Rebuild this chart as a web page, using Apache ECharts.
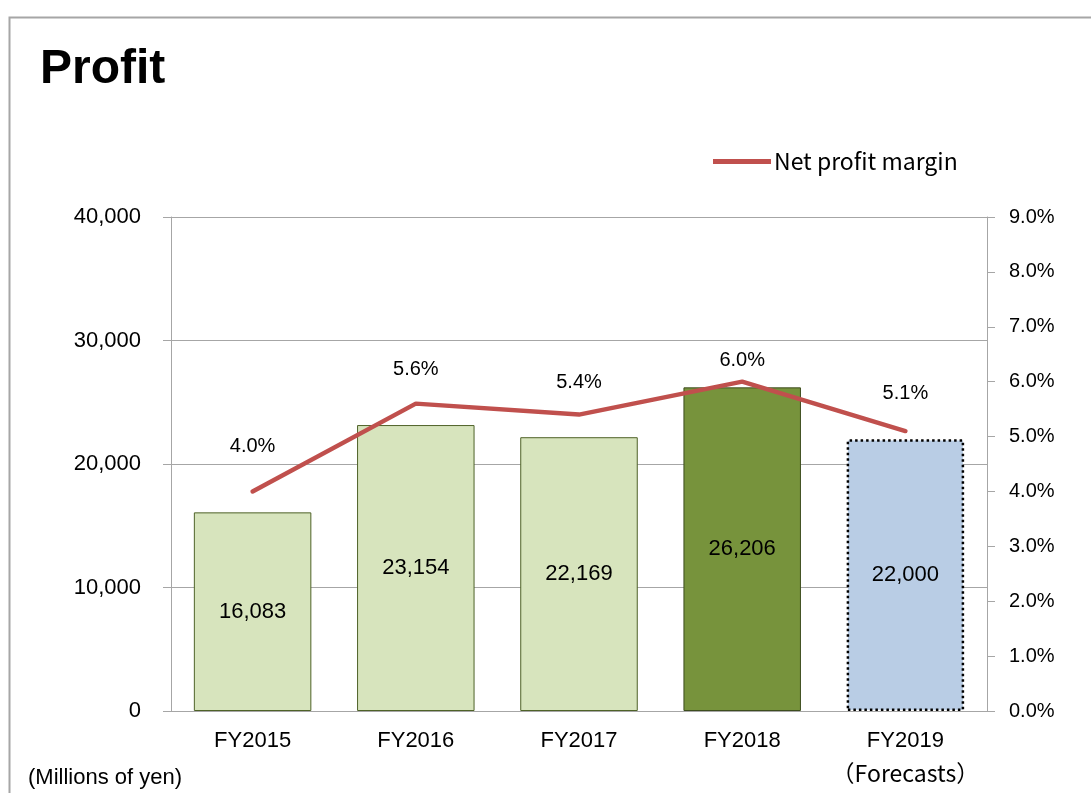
<!DOCTYPE html>
<html>
<head>
<meta charset="utf-8">
<script src="https://cdn.jsdelivr.net/npm/echarts@6/dist/echarts.min.js"></script>
<style>
  html, body { margin: 0; padding: 0; background: #fff; }
  #main { width: 1091px; height: 793px; }
</style>
</head>
<body>
<div id="main"></div>
<script>
// данные графика
const years = ['FY2015', 'FY2016', 'FY2017', 'FY2018', 'FY2019'];
const profit = [16083, 23154, 22169, 26206, 22000];
const margin = [4.0, 5.6, 5.4, 6.0, 5.1];
const marginLabelGap = [35, 24, 22, 11, 28];

const lightGreen = {color: '#d7e4bd', borderColor: '#4f6228', borderWidth: 1};
const barStyles = [
    lightGreen,
    lightGreen,
    lightGreen,
    {color: '#77933c', borderColor: '#3d4d1e', borderWidth: 1},
    {color: '#b9cde5', borderColor: '#000', borderWidth: 2.5, borderType: [2.5, 3]}
];

const font = '"Liberation Sans", Arial, sans-serif';
const jpFont = '"Noto Sans CJK JP", sans-serif';

let chart = echarts.init(document.getElementById('main'));
chart.setOption({
    animation: false,
    textStyle: {fontFamily: font},
    graphic: [
        {
            type: 'rect',
            shape: {x: 9.5, y: 17.5, width: 1200, height: 900},
            style: {fill: 'none', stroke: '#a6a6a6', lineWidth: 2}
        },
        {
            type: 'text',
            left: 40, top: 46,
            style: {text: 'Profit', font: 'bold 48px ' + font, fill: '#000'}
        },
        {
            type: 'text',
            left: 28, top: 767,
            style: {text: '(Millions of yen)', font: '22px ' + font, fill: '#000'}
        }
    ],
    legend: {
        left: 708, top: 145,
        itemWidth: 58, itemHeight: 5,
        itemGap: 6,
        data: [{name: 'Net profit margin', icon: 'rect'}],
        textStyle: {fontFamily: jpFont, fontSize: 23, color: '#000', padding: [0, 0, 0, -2]}
    },
    grid: {left: 171, right: 104, top: 217, bottom: 82},
    xAxis: {
        type: 'category',
        data: years,
        axisLine: {lineStyle: {color: '#a6a6a6', width: 1}},
        axisTick: {length: 8, lineStyle: {color: '#a6a6a6'}},
        axisLabel: {
            interval: 0,
            margin: 14,
            color: '#000',
            fontSize: 22,
            lineHeight: 32,
            formatter: v => v === 'FY2019' ? v + '\n{f|（Forecasts）}' : v,
            rich: {f: {fontFamily: jpFont, fontSize: 23, color: '#000', lineHeight: 32}}
        }
    },
    yAxis: [
        {
            type: 'value',
            min: 0, max: 40000, interval: 10000,
            axisLine: {show: true, lineStyle: {color: '#a6a6a6'}},
            axisTick: {show: true, length: 8, lineStyle: {color: '#a6a6a6'}},
            splitLine: {lineStyle: {color: '#a6a6a6'}},
            axisLabel: {
                margin: 30, color: '#000', fontSize: 22,
                formatter: v => v.toLocaleString('en-US')
            }
        },
        {
            type: 'value',
            min: 0, max: 9, interval: 1,
            position: 'right',
            axisLine: {show: true, lineStyle: {color: '#a6a6a6'}},
            axisTick: {show: true, length: 8, lineStyle: {color: '#a6a6a6'}},
            splitLine: {show: false},
            axisLabel: {
                margin: 22, color: '#000', fontSize: 20,
                formatter: v => v.toFixed(1) + '%'
            }
        }
    ],
    series: [
        {
            name: 'Profit',
            type: 'bar',
            barWidth: '72%',
            data: profit.map((v, i) => ({value: v, itemStyle: barStyles[i]})),
            label: {
                show: true,
                position: 'inside',
                color: '#000',
                fontSize: 22,
                formatter: p => p.value.toLocaleString('en-US')
            }
        },
        {
            name: 'Net profit margin',
            type: 'line',
            yAxisIndex: 1,
            symbol: 'circle',
            symbolSize: 0,
            showSymbol: true,
            color: '#c0504d',
            lineStyle: {color: '#c0504d', width: 4.5, cap: 'round'},
            itemStyle: {color: '#c0504d'},
            data: margin.map((v, i) => ({
                value: v,
                label: {distance: marginLabelGap[i]}
            })),
            label: {
                show: true,
                position: 'top',
                color: '#000',
                fontSize: 20,
                formatter: p => p.value.toFixed(1) + '%'
            },
            z: 5
        }
    ]
});
</script>
</body>
</html>
